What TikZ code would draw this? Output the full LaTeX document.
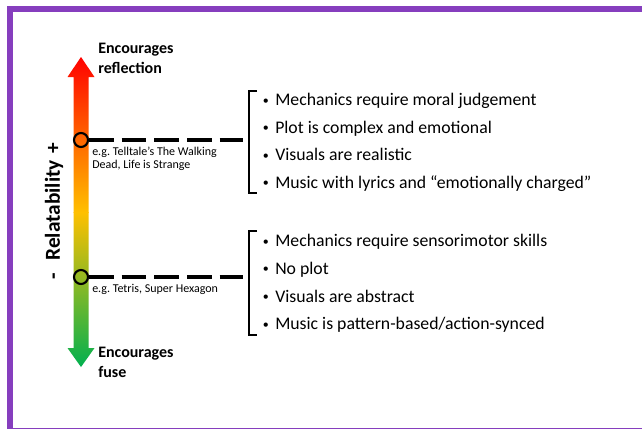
\documentclass[tikz,border=0pt]{standalone}
\usepackage{fontspec}
\setmainfont{Carlito}
\frenchspacing
\definecolor{framepurple}{RGB}{134,62,190}
\definecolor{gred}{RGB}{255,0,0}
\definecolor{ggold}{RGB}{255,192,0}
\definecolor{ggreen}{RGB}{0,176,80}
\newcommand{\bulmark}{\makebox[10.5pt][l]{\hspace{1.2pt}\raisebox{0.9pt}{\fontsize{9}{9}\selectfont•}}}
\begin{document}
\begin{tikzpicture}[x=0.75pt,y=-0.75pt,
  bul/.style={anchor=base west, inner sep=0, font=\fontsize{13.3}{16}\selectfont},
  enc/.style={anchor=base west, inner sep=0, font=\bfseries\fontsize{12}{14}\selectfont},
  ex/.style={anchor=base west, inner sep=0, font=\fontsize{9}{11}\selectfont},
  ringnode/.style={circle, draw=black, line width=1.6pt, minimum size=10.5pt, inner sep=0},
  dashline/.style={line width=2.5pt, dash pattern=on 18.5pt off 6pt},
  brack/.style={line width=1.6pt}]
\useasboundingbox (0,0) rectangle (642,429);
\fill[white] (0,0) rectangle (642,429);
% frame
\fill[framepurple] (7,6) rectangle (642,12);
\fill[framepurple] (7,6) rectangle (13,429);
\fill[framepurple] (7,427.6) rectangle (642,429);
% gradient double arrow
\begin{scope}
\clip (81,57) -- (94.5,77) -- (88.5,77) -- (88.5,348) -- (94.5,348) -- (81,367)
      -- (67.5,348) -- (73.5,348) -- (73.5,77) -- (67.5,77) -- cycle;
\shade[top color=gred, bottom color=ggold] (60,56) rectangle (100,212.5);
\shade[top color=ggold, bottom color=ggreen] (60,212) rectangle (100,368);
\end{scope}
% axis label
\node[font=\bfseries\fontsize{16}{19}\selectfont, rotate=90] (rel) at (54,211)
  {-\hspace{9pt}Relatability\hspace{5pt}+};
% end labels
\node[enc] (enc1) at (98,53) {Encourages};
\node[enc] (enc2) at (98,73) {reflection};
\node[enc] (enc3) at (98,357) {Encourages};
\node[enc] (enc4) at (98,377) {fuse};
% markers and dashed connectors
\node[ringnode] (c1) at (81,140) {};
\node[ringnode] (c2) at (81,277) {};
\coordinate (d1) at (243.3,140);
\coordinate (d2) at (243.3,277);
\draw[dashline] (c1) -- (d1);
\draw[dashline] (c2) -- (d2);
% examples
\node[ex] (e1) at (92,155.5) {e.g. Telltale’s The Walking};
\node[ex] (e2) at (92,168.5) {Dead, Life is Strange};
\node[ex] (e3) at (92,292.6) {e.g. Tetris, Super Hexagon};
% brackets
\coordinate (b1t) at (257,91);
\coordinate (b1b) at (257,193);
\coordinate (b2t) at (257,231);
\coordinate (b2b) at (257,335);
\draw[brack] (b1t) -- ++(-8,0) |- (b1b);
\draw[brack] (b2t) -- ++(-8,0) |- (b2b);
% bullet lists
\node[bul] (u1) at (261,105.5) {\bulmark Mechanics require moral judgement};
\node[bul] (u2) at (261,133) {\bulmark Plot is complex and emotional};
\node[bul] (u3) at (261,160.5) {\bulmark Visuals are realistic};
\node[bul] (u4) at (261,188) {\bulmark Music with lyrics and “emotionally charged”};
\node[bul] (l1) at (261,246.5) {\bulmark Mechanics require sensorimotor skills};
\node[bul] (l2) at (261,274) {\bulmark No plot};
\node[bul] (l3) at (261,302) {\bulmark Visuals are abstract};
\node[bul] (l4) at (261,329.5) {\bulmark Music is pattern-based/action-synced};
\end{tikzpicture}
\end{document}
